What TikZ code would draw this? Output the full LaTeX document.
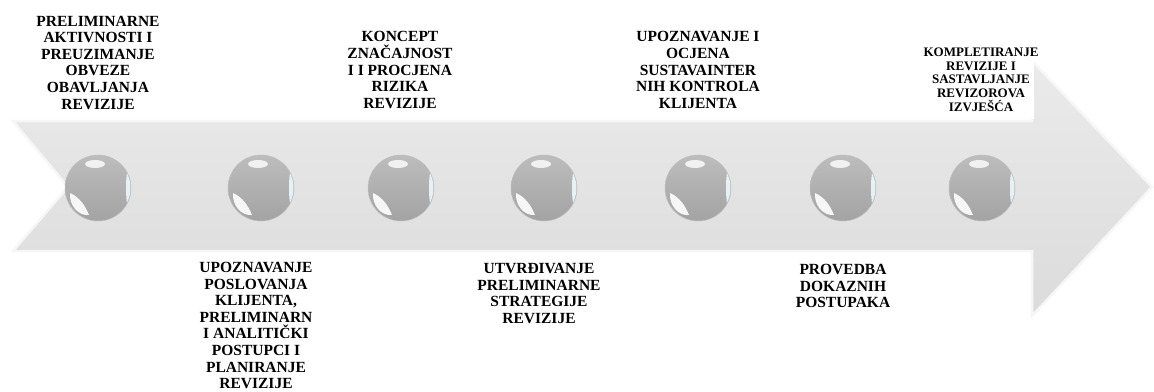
\documentclass[tikz,border=0pt]{standalone}
\usepackage{fontspec}
\setmainfont{Liberation Serif}
\usetikzlibrary{calc}
\newcommand\orbhl[1]{%
  \begin{scope}
    \clip (#1.center) circle (32.5pt);
    \fill[white,opacity=.8] ($(#1.center)+(-3pt,24pt)$) ellipse (10pt and 4pt);
    \fill[white,opacity=.9] ($(#1.center)+(-28pt,-5pt)$)
      .. controls ($(#1.center)+(-19pt,-9pt)$) and ($(#1.center)+(-13pt,-17pt)$) .. ($(#1.center)+(-9pt,-27pt)$)
      .. controls ($(#1.center)+(-20pt,-28pt)$) and ($(#1.center)+(-29pt,-17pt)$) .. cycle;
    \fill[white!75!cyan!30,opacity=.9] ($(#1.center)+(31pt,0pt)$) ellipse (3pt and 20pt);
  \end{scope}}
\begin{document}
\begin{tikzpicture}[x=1pt,y=-1pt,
  lbl/.style={align=center, inner sep=0pt, font=\bfseries\fontsize{15.5}{16.6}\selectfont},
  lblsmall/.style={align=center, inner sep=0pt, font=\bfseries\fontsize{13}{13.7}\selectfont},
  band/.style={top color=gray!16, bottom color=gray!28, draw=gray!7, line width=2.5pt, line join=miter},
  orb/.style={circle, minimum size=66pt, inner sep=0pt, draw=gray!50, line width=0.5pt,
    top color=gray!52, bottom color=gray!72}
]
\useasboundingbox (0,0) rectangle (1154,391);
% arrow band
\path[band] (13,121) -- (1032,121) -- (1032,61) -- (1152,187) -- (1032,316) -- (1032,251) -- (13,251) -- (68,187) -- cycle;
% white box behind last label
\fill[white] (912,38) rectangle (1034,119);
% balls
\node[orb] (b1) at (98,188) {};
\node[orb] (b2) at (261,188) {};
\node[orb] (b3) at (401,188) {};
\node[orb] (b4) at (544,188) {};
\node[orb] (b5) at (698,188) {};
\node[orb] (b6) at (843,188) {};
\node[orb] (b7) at (982,188) {};
\orbhl{b1}\orbhl{b2}\orbhl{b3}\orbhl{b4}\orbhl{b5}\orbhl{b6}\orbhl{b7}
% labels
\node[lbl] (l1) at (98,62.5) {PRELIMINARNE\\AKTIVNOSTI I\\PREUZIMANJE\\OBVEZE\\OBAVLJANJA\\REVIZIJE};
\node[lbl] (l2) at (256,325.5) {UPOZNAVANJE\\POSLOVANJA\\KLIJENTA,\\PRELIMINARN\\I ANALITIČKI\\POSTUPCI I\\PLANIRANJE\\REVIZIJE};
\node[lbl] (l3) at (400,70) {KONCEPT\\ZNAČAJNOST\\I I PROCJENA\\RIZIKA\\REVIZIJE};
\node[lbl] (l4) at (539,293.5) {UTVRĐIVANJE\\PRELIMINARNE\\STRATEGIJE\\REVIZIJE};
\node[lbl] (l5) at (698,70) {UPOZNAVANJE I\\OCJENA\\SUSTAVAINTER\\NIH KONTROLA\\KLIJENTA};
\node[lbl] (l6) at (843,286) {PROVEDBA\\DOKAZNIH\\POSTUPAKA};
\node[lblsmall] (l7) at (981,79.5) {KOMPLETIRANJE\\REVIZIJE I\\SASTAVLJANJE\\REVIZOROVA\\IZVJEŠĆA};
\end{tikzpicture}
\end{document}
